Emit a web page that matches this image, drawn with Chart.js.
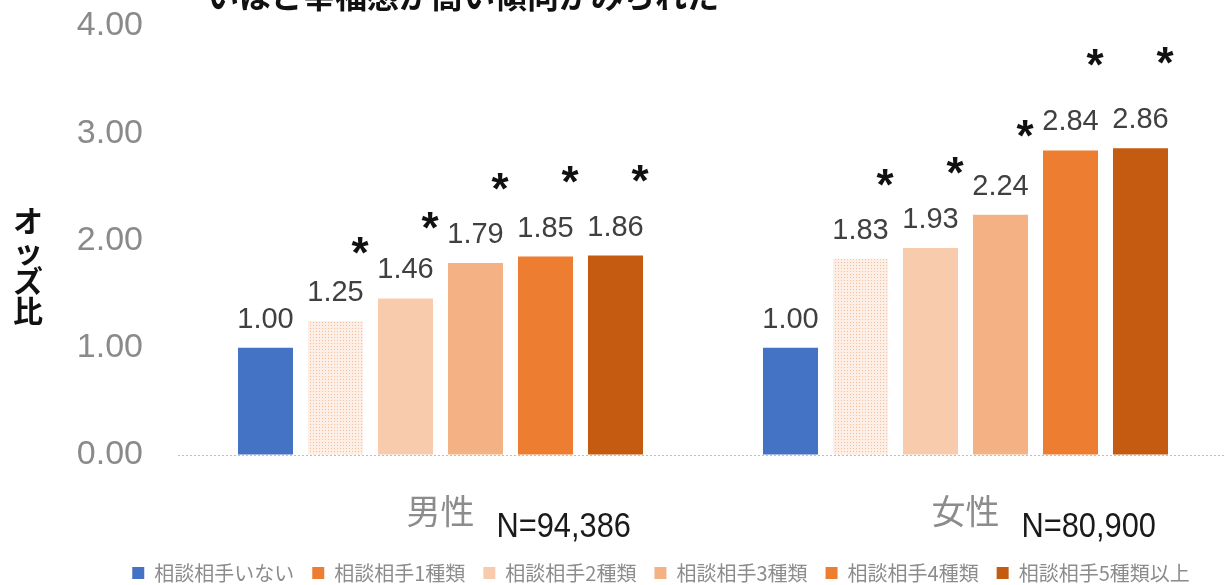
<!DOCTYPE html>
<html lang="ja">
<head>
<meta charset="utf-8">
<title>相談相手の種類とオッズ比</title>
<script src="https://cdn.jsdelivr.net/npm/chart.js@4.4.1/dist/chart.umd.min.js"></script>
<style>
  html, body { margin: 0; padding: 0; background: #fff; overflow: hidden; }
  #wrap { width: 1240px; height: 585px; }
</style>
</head>
<body>
<div id="wrap"><canvas id="oddsChart" width="1240" height="585"></canvas></div>
<script>
// --- 1. DATA ---
const genderLabels = ['男性', '女性'];
const sampleSizes = [94386, 80900];
const seriesNames = ['相談相手いない', '相談相手1種類', '相談相手2種類', '相談相手3種類', '相談相手4種類', '相談相手5種類以上'];
const maleOdds = [1.00, 1.25, 1.46, 1.79, 1.85, 1.86];
const femaleOdds = [1.00, 1.83, 1.93, 2.24, 2.84, 2.86];
const maleSignificant = [false, true, true, true, true, true];
const femaleSignificant = [false, true, true, true, true, true];
const yTicks = [0, 1, 2, 3, 4];
const headline = 'いほど幸福感が高い傾向がみられた';
const yTitle = ['オ', 'ッ', 'ズ', '比'];

// --- 2. COLOURS ---
const barColors = ['#4472C4', null, '#F8CBAD', '#F4B183', '#ED7D31', '#C55A11'];
const legendColors = ['#4472C4', '#ED7D31', '#F8CBAD', '#F4B183', '#ED7D31', '#C55A11'];

const CJK = '"Noto Sans CJK JP", "Noto Sans", sans-serif';
const LATIN = '"Liberation Sans", Arial, sans-serif';
const LEGEND_SHIFT = 47;

// light dotted fill for the "1種類" bars
function dottedPattern() {
    const tile = document.createElement('canvas');
    tile.width = 3;
    tile.height = 3;
    const t = tile.getContext('2d');
    t.fillStyle = '#FDEFE6';
    t.fillRect(0, 0, 3, 3);
    t.fillStyle = '#F3BE9C';
    t.fillRect(1, 1, 1, 1);
    return document.getElementById('oddsChart').getContext('2d').createPattern(tile, 'repeat');
}
barColors[1] = dottedPattern();

const significance = [maleSignificant, femaleSignificant];

// --- 3. ANNOTATIONS (value labels, asterisks, N, titles) ---
const annotations = {
    id: 'annotations',
    afterLayout(chart) {
        // legend sits a little right of the canvas centre
        chart.legend.left += LEGEND_SHIFT;
        chart.legend.right += LEGEND_SHIFT;
    },
    afterDatasetsDraw(chart) {
        const ctx = chart.ctx;
        const base = chart.scales.y.getPixelForValue(0);
        ctx.save();
        chart.data.datasets.forEach((ds, di) => {
            chart.getDatasetMeta(di).data.forEach((bar, gi) => {
                const value = ds.data[gi];
                // value label
                ctx.font = '29px ' + LATIN;
                ctx.fillStyle = '#404040';
                ctx.textAlign = 'center';
                ctx.textBaseline = 'alphabetic';
                ctx.fillText(value.toFixed(2), bar.x, bar.y - 20);

                // significance mark
                if (significance[gi][di]) {
                    ctx.font = 'bold 44px ' + LATIN;
                    ctx.fillStyle = '#111';
                    const m = ctx.measureText('*');
                    const cy = bar.y - 62 - 0.1 * (base - bar.y);
                    const by = cy + (m.actualBoundingBoxAscent - m.actualBoundingBoxDescent) / 2;
                    ctx.fillText('*', bar.x + bar.width / 2 - 3, by);
                }
            });
        });
        ctx.restore();
    },
    afterDraw(chart) {
        const ctx = chart.ctx;
        const x = chart.scales.x;
        const bottom = chart.chartArea.bottom;
        ctx.save();

        // sample sizes next to the category labels
        genderLabels.forEach((g, i) => {
            const cx = x.getPixelForValue(i);
            ctx.save();
            ctx.font = '35px ' + LATIN;
            ctx.fillStyle = '#1a1a1a';
            ctx.textAlign = 'left';
            ctx.textBaseline = 'alphabetic';
            ctx.translate(cx + 56, bottom + 82);
            ctx.scale(0.88, 1);
            ctx.fillText('N=' + sampleSizes[i].toLocaleString('en-US'), 0, 0);
            ctx.restore();
        });

        // stacked y-axis title
        ctx.font = 'bold 30px ' + CJK;
        ctx.fillStyle = '#111';
        ctx.textAlign = 'center';
        ctx.textBaseline = 'middle';
        yTitle.forEach((ch, i) => ctx.fillText(ch, 28, 221 + i * 30));

        // headline (runs off the top edge)
        ctx.font = 'bold 32px ' + CJK;
        ctx.textAlign = 'left';
        ctx.textBaseline = 'alphabetic';
        ctx.fillText(headline, 207, 8);
        ctx.restore();
    }
};

// --- 4. CHART ---
const datasets = seriesNames.map((name, i) => ({
    label: name,
    data: [maleOdds[i], femaleOdds[i]],
    backgroundColor: barColors[i],
    borderWidth: 0,
    categoryPercentage: 0.8,
    barPercentage: 0.786
}));

new Chart(document.getElementById('oddsChart'), {
    type: 'bar',
    data: { labels: genderLabels, datasets: datasets },
    plugins: [annotations],
    options: {
        responsive: false,
        animation: false,
        layout: { padding: { top: 26, left: 0, right: 12, bottom: -8 } },
        plugins: {
            tooltip: { enabled: false },
            legend: {
                position: 'bottom',
                labels: {
                    boxWidth: 12,
                    boxHeight: 12,
                    padding: 18,
                    color: '#8c8c8c',
                    font: { family: CJK, size: 20 },
                    generateLabels(chart) {
                        return Chart.defaults.plugins.legend.labels.generateLabels(chart).map((item, i) => {
                            item.fillStyle = legendColors[i];
                            item.strokeStyle = legendColors[i];
                            item.lineWidth = 0;
                            return item;
                        });
                    }
                }
            }
        },
        scales: {
            x: {
                grid: { display: false },
                border: { display: false },
                ticks: {
                    padding: 28,
                    color: '#8c8c8c',
                    font: { family: CJK, size: 34 }
                },
                afterFit(scale) { scale.height = 90; }
            },
            y: {
                min: yTicks[0],
                max: yTicks[yTicks.length - 1],
                // only the zero line shows, as a light dotted rule
                border: { display: false, dash: [2, 2] },
                grid: {
                    drawTicks: true,
                    tickLength: 35,
                    tickColor: 'rgba(0,0,0,0)',
                    lineWidth: 1,
                    color: (c) => c.tick && c.tick.value === 0 ? '#bdbdbd' : 'rgba(0,0,0,0)'
                },
                ticks: {
                    stepSize: yTicks[1] - yTicks[0],
                    padding: 0,
                    color: '#8a8a8a',
                    font: { family: LATIN, size: 34 },
                    callback: (v) => Number(v).toFixed(2)
                },
                afterFit(scale) { scale.width = 178; }
            }
        }
    }
});
</script>
</body>
</html>
